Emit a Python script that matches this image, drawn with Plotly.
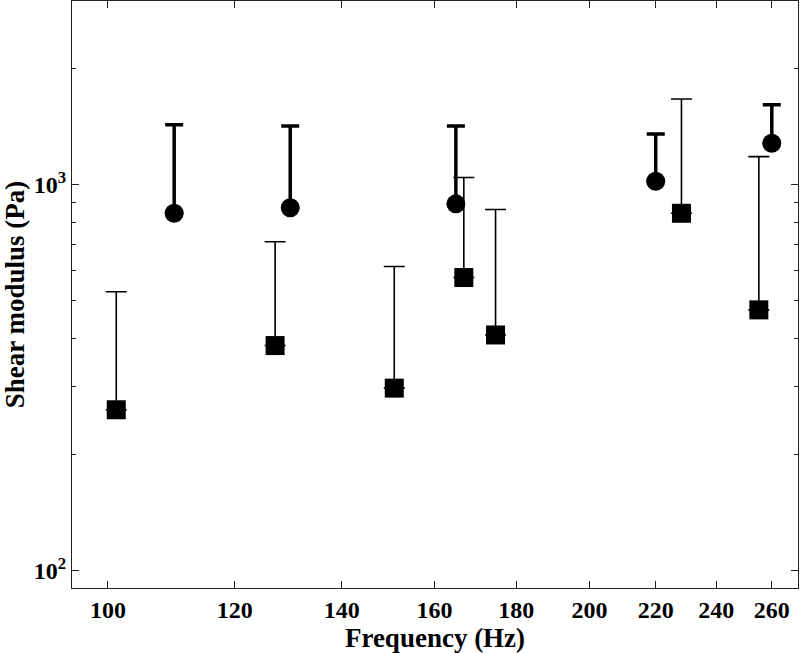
import plotly.graph_objects as go

# Circles (thick upper error bars)
circle_freq = [110, 130, 165, 220, 260]
circle_mod = [844, 872, 893, 1022, 1282]
circle_upper = [1433, 1422, 1422, 1356, 1615]

# Squares (thin upper error bars)
square_freq = [101.2, 127.2, 151, 166.9, 174.7, 228.3, 255.2]
square_mod = [261, 383, 297, 575, 408, 844, 474]
square_upper = [528, 712, 614, 1045, 863, 1671, 1184]

x_ticks = [100, 120, 140, 160, 180, 200, 220, 240, 260]
y_ticks = [100, 1000]
y_ticktext = ["10<sup>2</sup>", "10<sup>3</sup>"]
y_minor = [200, 300, 400, 500, 600, 700, 800, 900, 2000, 3000]

FONT = "Liberation Serif"

fig = go.Figure()

fig.add_trace(go.Scatter(
    x=square_freq, y=square_mod, mode="markers",
    marker=dict(symbol="square", size=19, color="black"),
    error_y=dict(type="data", symmetric=False,
                 array=[u - v for u, v in zip(square_upper, square_mod)],
                 arrayminus=[0] * len(square_mod),
                 thickness=1.6, width=10.5, color="black"),
    showlegend=False,
))

fig.add_trace(go.Scatter(
    x=circle_freq, y=circle_mod, mode="markers",
    marker=dict(symbol="circle", size=19, color="black"),
    error_y=dict(type="data", symmetric=False,
                 array=[u - v for u, v in zip(circle_upper, circle_mod)],
                 arrayminus=[0] * len(circle_mod),
                 thickness=3.5, width=9, color="black"),
    showlegend=False,
))

axis_common = dict(
    showline=True, linecolor="#222", linewidth=1, mirror="ticks",
    ticks="inside", ticklen=7, tickwidth=1, tickcolor="#222",
    showgrid=False, zeroline=False, automargin=False, tickangle=0,
    tickfont=dict(family=FONT, size=24, color="black", weight="bold"),
)

fig.update_layout(
    width=800, height=653,
    margin=dict(l=72, r=2, t=1, b=65),
    paper_bgcolor="white", plot_bgcolor="white",
    xaxis=dict(
        type="log", range=[1.97752, 2.43136],
        tickmode="array", tickvals=x_ticks, ticktext=[str(v) for v in x_ticks],
        title=dict(text="Frequency (Hz)", standoff=4,
                   font=dict(family=FONT, size=27, color="black", weight="bold")),
        **axis_common,
    ),
    yaxis=dict(
        type="log", range=[1.95424, 3.47712],
        tickmode="array", tickvals=y_ticks, ticktext=y_ticktext,
        minor=dict(tickmode="array", tickvals=y_minor, ticks="inside",
                   ticklen=4, tickwidth=1, tickcolor="#222", showgrid=False),
        title=dict(text="Shear modulus (Pa)", standoff=4,
                   font=dict(family=FONT, size=27, color="black", weight="bold")),
        **axis_common,
    ),
)

fig.write_html("out.html", config={"displayModeBar": False},
               post_script="document.body.style.margin='0px';")
